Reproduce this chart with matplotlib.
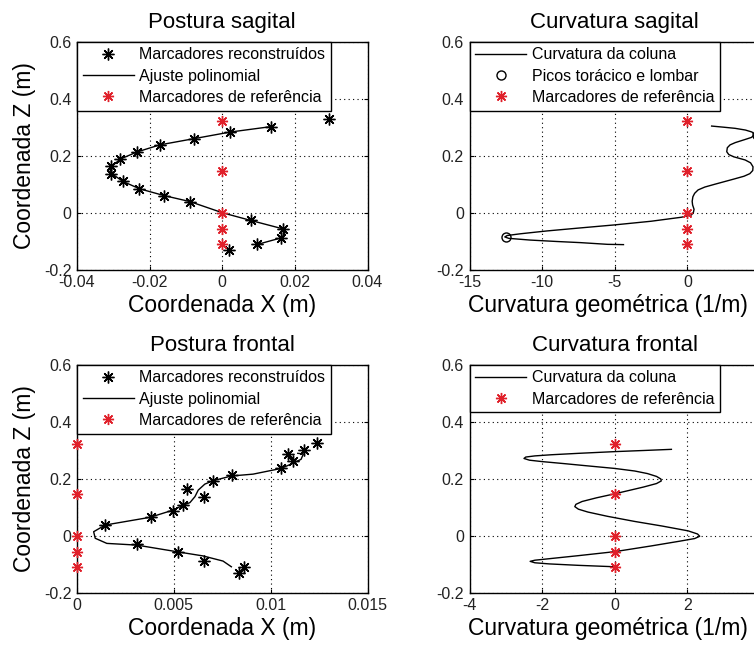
import matplotlib

matplotlib.use("Agg")
import matplotlib.pyplot as plt

plt.rcParams["font.family"] = ["Liberation Sans", "DejaVu Sans"]
plt.rcParams["axes.unicode_minus"] = False

# reference markers (same heights in every panel)
REF_Z = [0.323, 0.146, 0.0, -0.058, -0.111]

# sagittal posture: reconstructed markers and polynomial fit
SAG_MARK_X = [0.0294, 0.0134, 0.0022, -0.0077, -0.0172, -0.0235, -0.0281, -0.0306, -0.0306,
              -0.0274, -0.0228, -0.0160, -0.0089, 0.0078, 0.0168, 0.0163, 0.0095, 0.0019]
SAG_MARK_Z = [0.328, 0.302, 0.283, 0.260, 0.238, 0.213, 0.188, 0.164, 0.136,
              0.110, 0.084, 0.060, 0.039, -0.027, -0.057, -0.088, -0.110, -0.132]
SAG_FIT_X = [0.0134, 0.0022, -0.0077, -0.0172, -0.0235, -0.0281, -0.0303, -0.0309, -0.0303,
             -0.0274, -0.0228, -0.0160, -0.0089, 0.0, 0.0078, 0.0168, 0.0172, 0.0163, 0.0092]
SAG_FIT_Z = [0.302, 0.283, 0.260, 0.238, 0.213, 0.188, 0.164, 0.150, 0.136,
             0.110, 0.084, 0.060, 0.039, 0.0, -0.027, -0.057, -0.073, -0.088, -0.113]

# frontal posture
FRO_MARK_X = [0.01237, 0.01170, 0.01090, 0.01114, 0.01055, 0.00799, 0.00702, 0.00569, 0.00655,
              0.00546, 0.00496, 0.00383, 0.00147, 0.00310, 0.00520, 0.00655, 0.00860, 0.00836]
FRO_MARK_Z = [0.327, 0.302, 0.285, 0.261, 0.237, 0.212, 0.191, 0.164, 0.137,
              0.109, 0.087, 0.065, 0.038, -0.029, -0.058, -0.089, -0.110, -0.131]
FRO_FIT_X = [0.01140, 0.01169, 0.01157, 0.01114, 0.01054, 0.00909, 0.00797, 0.00703, 0.00660,
             0.00626, 0.00609, 0.00583, 0.00548, 0.00497, 0.00377, 0.00146, 0.00086, 0.00094,
             0.00154, 0.00309, 0.00514, 0.00651, 0.00754, 0.00797]
FRO_FIT_Z = [0.289, 0.287, 0.268, 0.254, 0.236, 0.216, 0.2095, 0.193, 0.181,
             0.160, 0.137, 0.116, 0.107, 0.090, 0.0645, 0.0375, 0.014, -0.009,
             -0.027, -0.033, -0.056, -0.071, -0.089, -0.109]

# sagittal curvature
SAG_CURV_K = [1.67, 2.5, 3.29, 4.0, 4.45, 4.63, 4.4, 3.98, 3.3, 2.94, 2.75, 2.71, 2.85, 3.2,
              3.98, 4.35, 4.52, 4.5, 4.3, 3.9, 3.2, 1.9, 1.2, 0.74, 0.50, 0.38, 0.33, 0.36,
              0.46, 0.42, 0.28, -0.42, -2.5, -5.05, -7.5, -9.67, -11.5, -12.4, -12.57, -12.3,
              -10.83, -9.0, -7.36, -5.50, -4.40]
SAG_CURV_Z = [0.304, 0.300, 0.296, 0.290, 0.283, 0.273, 0.264, 0.257, 0.246, 0.238, 0.228, 0.214,
              0.204, 0.196, 0.185, 0.175, 0.161, 0.148, 0.137, 0.128, 0.118, 0.100, 0.090, 0.080,
              0.068, 0.056, 0.040, 0.027, 0.012, 0.002, -0.008, -0.016, -0.030, -0.043, -0.054,
              -0.064, -0.074, -0.080, -0.085, -0.090, -0.096, -0.101, -0.105, -0.111, -0.112]
PEAK_K = [-12.5, 4.8]
PEAK_Z = [-0.085, 0.272]

# frontal curvature
FRO_CURV_K = [1.56, 0.8, 0.0, -1.0, -1.75, -2.2, -2.45, -2.5, -2.35, -2.0, -1.4, -0.83, 0.0,
              0.55, 0.9, 1.15, 1.27, 1.28, 1.15, 0.8, 0.4, 0.0, -0.5, -0.9, -1.07, -1.1, -1.0,
              -0.74, -0.2, 0.55, 1.3, 2.02, 2.28, 2.34, 2.2, 1.8, 1.0, 0.0, -1.0, -1.75, -2.2,
              -2.33, -2.2, -1.8, -1.0, 0.0]
FRO_CURV_Z = [0.303, 0.299, 0.295, 0.289, 0.284, 0.280, 0.276, 0.271, 0.265, 0.260, 0.253, 0.246,
              0.236, 0.227, 0.218, 0.208, 0.199, 0.192, 0.183, 0.171, 0.159, 0.147, 0.133, 0.120,
              0.110, 0.102, 0.093, 0.083, 0.068, 0.050, 0.034, 0.017, 0.006, -0.002, -0.010,
              -0.019, -0.036, -0.056, -0.070, -0.080, -0.086, -0.090, -0.095, -0.099, -0.104, -0.109]

Z_TICKS = [-0.2, 0, 0.2, 0.4, 0.6]
RED = "#e0202a"
AST = (8, 2, 0)  # eight-armed asterisk

W, H = 754, 647
LEFT_X, RIGHT_X, AX_W = 77, 469.5, 290.5
TOP_Y, BOT_Y, AX_H = 269.7, 592.7, 228


def setup(ax, xticks, title, xlabel, ylabel=None):
    ax.set_xlim(xticks[0], xticks[-1])
    ax.set_ylim(Z_TICKS[0], Z_TICKS[-1])
    ax.set_xticks(xticks)
    ax.set_xticklabels([f"{v:g}" for v in xticks])
    ax.set_yticks(Z_TICKS)
    ax.set_yticklabels([f"{v:g}" for v in Z_TICKS])
    ax.tick_params(direction="in", top=True, right=True, length=3, labelsize=11.5,
                   labelcolor="#222222", pad=4)
    ax.grid(True, color="k", linestyle=(0, (1, 3)), lw=0.8)
    ax.set_axisbelow(True)
    for s in ax.spines.values():
        s.set_linewidth(1.0)
    ax.set_title(title, fontsize=16, pad=10)
    ax.set_xlabel(xlabel, fontsize=16.5, labelpad=3)
    if ylabel:
        ax.set_ylabel(ylabel, fontsize=16.5, labelpad=6)


def legend(ax):
    ax.legend(loc="upper left", bbox_to_anchor=(0, 1), borderaxespad=0, fontsize=11.5,
              fancybox=False, edgecolor="k", framealpha=1, handlelength=3.2,
              handletextpad=0.35, labelspacing=0.4, borderpad=0.35
              ).get_frame().set_linewidth(1.0)


fig = plt.figure(figsize=(W / 100, H / 100), dpi=100)


def add_axes(x0, ybot):
    return fig.add_axes([x0 / W, 1 - ybot / H, AX_W / W, AX_H / H])


def ref_markers(ax, **kw):
    ax.plot([0] * len(REF_Z), REF_Z, ls="none", marker=AST, ms=8, mew=1.0, color=RED,
            label="Marcadores de referência", zorder=5, **kw)


for ybot, mx, mz, fx, fz, xt, title in [
        (TOP_Y, SAG_MARK_X, SAG_MARK_Z, SAG_FIT_X, SAG_FIT_Z, [-0.04, -0.02, 0, 0.02, 0.04], "Postura sagital"),
        (BOT_Y, FRO_MARK_X, FRO_MARK_Z, FRO_FIT_X, FRO_FIT_Z, [0, 0.005, 0.01, 0.015], "Postura frontal")]:
    ax = add_axes(LEFT_X, ybot)
    ax.plot(mx, mz, ls="none", marker=AST, ms=8.5, mew=1.0, color="k", label="Marcadores reconstruídos")
    ax.plot(fx, fz, color="k", lw=1.0, label="Ajuste polinomial")
    ref_markers(ax, clip_on=False)
    setup(ax, xt, title, "Coordenada X (m)", "Coordenada Z (m)")
    legend(ax)

ax = add_axes(RIGHT_X, TOP_Y)
ax.plot(SAG_CURV_K, SAG_CURV_Z, color="k", lw=1.0, label="Curvatura da coluna")
ax.plot(PEAK_K, PEAK_Z, ls="none", marker="o", ms=6.5, mfc="none", mec="k", mew=1.0,
        label="Picos torácico e lombar")
ref_markers(ax)
setup(ax, [-15, -10, -5, 0, 5], "Curvatura sagital", "Curvatura geométrica (1/m)")
ax.xaxis.label.set_x(0.478)
legend(ax)

ax = add_axes(RIGHT_X, BOT_Y)
ax.plot(FRO_CURV_K, FRO_CURV_Z, color="k", lw=1.0, label="Curvatura da coluna")
ref_markers(ax)
setup(ax, [-4, -2, 0, 2, 4], "Curvatura frontal", "Curvatura geométrica (1/m)")
ax.xaxis.label.set_x(0.478)
legend(ax)

fig.savefig("out.png", dpi=100, facecolor="white")
